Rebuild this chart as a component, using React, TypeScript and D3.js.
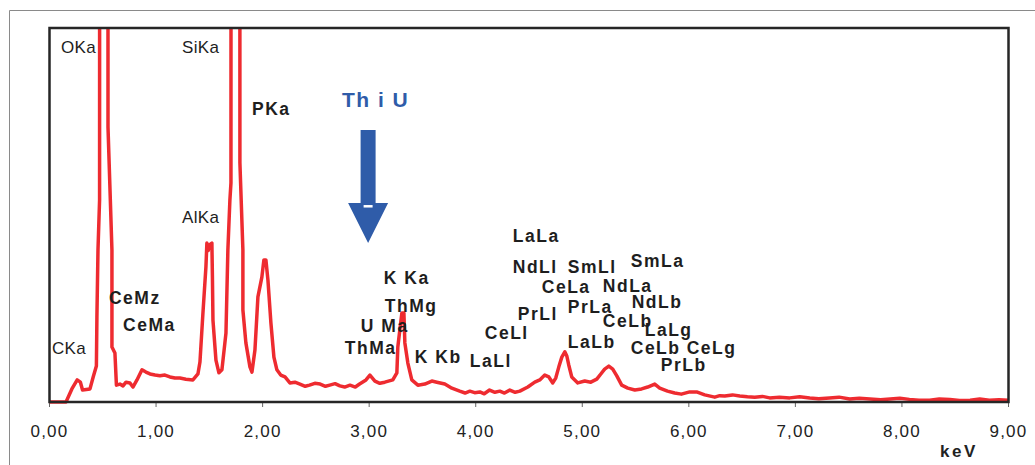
import React from 'react'
import * as d3 from 'd3'

// spectrum (keV, counts in % of plot height); main peaks run off the top
const energy = [
  0.00, 0.155, 0.21, 0.26, 0.29, 0.31, 0.38, 0.41, 0.44, 0.445, 0.455, 0.47, 0.472, 0.547, 0.549,
  0.586, 0.586, 0.614, 0.628, 0.661, 0.69, 0.718, 0.755, 0.783, 0.821, 0.868, 0.905, 0.943, 0.99, 1.036,
  1.083, 1.13, 1.177, 1.224, 1.28, 1.346, 1.393, 1.412, 1.44, 1.468, 1.477, 1.49, 1.50, 1.524, 1.529, 1.534,
  1.562, 1.59, 1.618, 1.646, 1.656, 1.674, 1.693, 1.703, 1.705, 1.785, 1.787, 1.815, 1.815,
  1.843, 1.881, 1.90, 1.928, 1.956, 1.993, 2.012, 2.031, 2.05, 2.078, 2.106, 2.134, 2.17, 2.21,
  2.256, 2.303, 2.35, 2.40, 2.44, 2.49, 2.54, 2.59, 2.63, 2.68, 2.725, 2.77, 2.82, 2.87, 2.91, 2.97,
  3.007, 3.054, 3.10, 3.147, 3.222, 3.26,
  3.269, 3.288, 3.307, 3.326, 3.335, 3.363, 3.40, 3.457, 3.522, 3.588, 3.635, 3.71, 3.776, 3.85,
  3.90, 3.945, 3.99, 4.039, 4.08, 4.13, 4.18, 4.226, 4.27, 4.32, 4.37, 4.414, 4.489, 4.554, 4.601, 4.648,
  4.686, 4.723, 4.751, 4.78,
  4.808, 4.836, 4.855, 4.873, 4.901, 4.958, 5.023, 5.08, 5.136, 5.174, 5.21, 5.249, 5.286, 5.324,
  5.37, 5.427, 5.493, 5.557, 5.614, 5.68, 5.727, 5.80, 5.867, 5.93, 6.008, 6.073, 6.149, 6.243,
  6.29, 6.337, 6.41, 6.478, 6.55, 6.618, 6.69, 6.759, 6.85, 6.947, 7.04, 7.135, 7.22, 7.32, 7.41,
  7.51, 7.60, 7.70, 7.80, 7.89, 7.98, 8.07, 8.16, 8.26, 8.35, 8.45, 8.54, 8.64, 8.73, 8.82, 8.91, 9.0
]
const counts = [
  0, 0, 3.5, 5.9, 5.3, 3.2, 3.5, 6.7, 9.6, 22.7, 40.6, 54, 400, 400, 73.5,
  40.6, 14.7, 13.1, 4.5, 4.8, 4.3, 5.3, 5.1, 4.0, 5.9, 8.6, 8.0, 7.5, 7.2, 7.0,
  7.2, 6.7, 6.4, 6.4, 6.1, 5.9, 7.5, 10.7, 23.8, 36.1, 42.5, 40.5, 42.0, 42.5, 33.4, 21.9,
  11.2, 7.8, 8.6, 15.8, 18.4, 40.6, 54, 58.6, 400, 400, 63.9, 40.6, 24.6,
  15.8, 9.4, 8.0, 13.9, 28.1, 33.4, 38.0, 38.0, 32.6, 21.1, 12.0, 8.6, 7.2, 6.7,
  5.1, 5.3, 4.8, 4.2, 4.5, 5.0, 4.8, 4.2, 4.5, 4.9, 4.3, 4.0, 4.5, 4.0, 4.8, 5.9,
  7.2, 5.6, 5.0, 5.3, 5.9, 7.8,
  14.7, 19.3, 23.8, 23.8, 15.8, 10.4, 5.9, 4.5, 4.8, 5.6, 5.3, 4.8, 3.7, 2.9,
  2.4, 2.9, 2.5, 2.7, 2.2, 3.2, 2.6, 2.9, 2.4, 3.2, 2.6, 2.9, 4.0, 5.3, 5.9, 7.2,
  6.7, 5.1, 6.4, 9.4,
  12.0, 13.4, 12.3, 9.9, 6.7, 5.1, 5.6, 5.3, 6.1, 7.5, 8.8, 9.6, 8.8, 7.0,
  4.5, 3.7, 3.2, 3.5, 4.0, 4.8, 3.7, 2.9, 2.4, 2.1, 2.7, 2.7, 1.9, 1.3,
  1.7, 1.6, 1.9, 1.6, 1.4, 1.3, 1.5, 1.1, 1.3, 1.1, 1.4, 1.1, 0.9, 1.1, 1.3,
  0.8, 1.0, 0.8, 0.6, 0.8, 1.0, 0.7, 0.5, 0.5, 0.8, 0.7, 0.4, 0.5, 0.8, 0.5, 0.6, 0.5
]

const tickValues = [0, 1, 2, 3, 4, 5, 6, 7, 8, 9]
const fmtTick = (v: number) => v.toFixed(2).replace('.', ',')

// peak labels: text, keV, height, bold
const labelText = ['OKa', 'SiKa', 'PKa', 'AlKa', 'CKa', 'CeMz', 'CeMa', 'K Ka', 'ThMg', 'U Ma', 'ThMa', 'K Kb',
  'LaLl', 'CeLl', 'PrLl', 'LaLa', 'NdLl', 'SmLl', 'CeLa', 'PrLa', 'LaLb', 'NdLa', 'CeLb', 'SmLa', 'NdLb',
  'LaLg', 'CeLb', 'CeLg', 'PrLb']
const labelKeV = [0.108, 1.243, 1.9, 1.243, 0.023, 0.558, 0.69, 3.138, 3.147, 2.922, 2.772, 3.428,
  3.945, 4.085, 4.395, 4.348, 4.348, 4.864, 4.62, 4.864, 4.864, 5.193, 5.193, 5.455, 5.464,
  5.586, 5.455, 5.98, 5.737]
const labelY = [93.3, 93.3, 76.7, 47.9, 12.8, 26.2, 19.0, 31.6, 24.1, 18.7, 12.8, 10.4,
  9.4, 16.8, 21.9, 42.8, 34.5, 34.5, 29.1, 23.8, 14.4, 29.4, 20.1, 36.1, 25.1,
  17.6, 12.8, 12.8, 8.3]
const labelBold = [false, false, true, false, false, true, true, true, true, true, true, true,
  true, true, true, true, true, true, true, true, true, true, true, true, true,
  true, true, true, true]

const arrowLabel = 'Th i U'
const arrowKeV = 2.99
const arrowTop = 72.7
const arrowHeadBase = 53.2
const arrowTip = 42.5
const arrowLabelY = 78.9

export default function App() {
  const width = 1035
  const height = 465
  const left = 49.5, right = 1008.5, top = 28, bottom = 402
  const font = 'Liberation Sans, Arial, Helvetica, sans-serif'

  const x = d3.scaleLinear().domain([0, 9]).range([left, right])
  const y = d3.scaleLinear().domain([0, 100]).range([bottom, top])

  const line = d3.line<number>()
    .x((d, i) => x(energy[i]))
    .y(d => y(d))

  const ax = x(arrowKeV)
  const arrowPath = [
    [ax - 7.5, y(arrowTop)], [ax + 7.5, y(arrowTop)], [ax + 7.5, y(arrowHeadBase)],
    [ax + 20, y(arrowHeadBase)], [ax, y(arrowTip)], [ax - 20, y(arrowHeadBase)],
    [ax - 7.5, y(arrowHeadBase)]
  ].map(p => p.join(',')).join(' ')

  return (
    <div style={{ position: 'fixed', left: 0, top: 0 }}>
      <svg width={width} height={height} style={{ display: 'block', background: '#fff' }}>
        <defs>
          <clipPath id="plot">
            <rect x={left} y={top} width={right - left + 2} height={bottom - top + 2} />
          </clipPath>
        </defs>
        {/* outer frame */}
        <line x1={9.5} y1={10.5} x2={width} y2={10.5} stroke="#8a8a8a" strokeWidth={1} />
        <line x1={9.5} y1={10.5} x2={9.5} y2={height} stroke="#8a8a8a" strokeWidth={1} />

        {tickValues.map(t => (
          <g key={t}>
            <line x1={x(t)} x2={x(t)} y1={bottom} y2={bottom + 5} stroke="#666" strokeWidth={1} />
            <text x={x(t)} y={437} textAnchor="middle" fontFamily={font} fontSize={17}
              letterSpacing={1.2} fill="#222">{fmtTick(t)}</text>
          </g>
        ))}
        <text x={940} y={457} fontFamily={font} fontSize={17} fontWeight="bold"
          letterSpacing={2.5} fill="#222">keV</text>

        <path d={line(counts) || ''} fill="none" stroke="#ee2b30" strokeWidth={3.5}
          strokeLinejoin="round" clipPath="url(#plot)" />

        <rect x={left} y={top} width={right - left} height={bottom - top} fill="none"
          stroke="#262626" strokeWidth={2.5} />

        {labelText.map((t, i) => (
          <text key={i} x={x(labelKeV[i])} y={y(labelY[i])} fontFamily={font}
            fontSize={labelBold[i] ? 17.5 : 17} fontWeight={labelBold[i] ? 'bold' : 'normal'}
            letterSpacing={labelBold[i] ? 1.5 : 0.4} fill="#1e1e1e">{t}</text>
        ))}

        <polygon points={arrowPath} fill="#2f5ca9" />
        <rect x={ax - 4.5} y={y(arrowHeadBase) + 2} width={9} height={2.5} fill="#fff" />
        <text x={ax + 7.5} y={y(arrowLabelY)} textAnchor="middle" fontFamily={font} fontSize={21}
          fontWeight="bold" letterSpacing={1.5} fill="#2f5ca9">{arrowLabel}</text>
      </svg>
    </div>
  )
}
